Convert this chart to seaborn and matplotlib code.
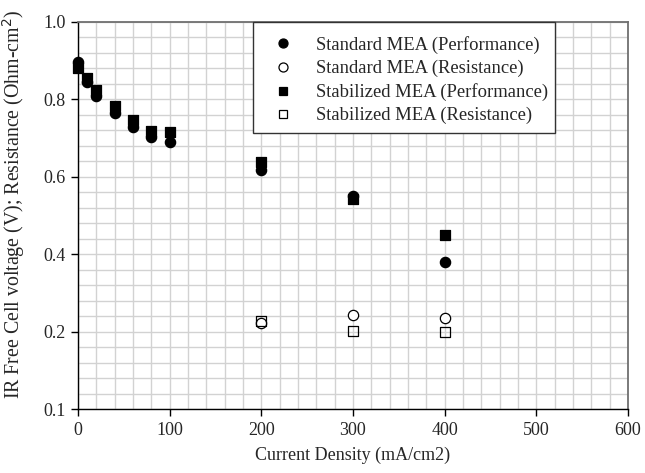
import numpy as np
import pandas as pd
import matplotlib
matplotlib.use("Agg")
import matplotlib.pyplot as plt
import seaborn as sns
from matplotlib.patches import Rectangle
from matplotlib.ticker import MultipleLocator, FixedLocator, FixedFormatter

sns.set_style("white")
plt.rcParams['font.family'] = ['Liberation Serif', 'DejaVu Serif']

# ---- data ----
current_perf = [0, 10, 20, 40, 60, 80, 100, 200, 300, 400]
std_perf = [0.897, 0.845, 0.809, 0.765, 0.729, 0.703, 0.690, 0.618, 0.550, 0.380]
stab_perf = [0.881, 0.855, 0.824, 0.783, 0.747, 0.718, 0.716, 0.638, 0.543, 0.450]
current_res = [200, 300, 400]
std_res = [0.222, 0.244, 0.236]
stab_res = [0.227, 0.202, 0.199]

series_names = ["Standard MEA (Performance)", "Standard MEA (Resistance)",
                "Stabilized MEA (Performance)", "Stabilized MEA (Resistance)"]
y_ticks = [0.0, 0.2, 0.4, 0.6, 0.8, 1.0]
y_tick_labels = ["0.1", "0.2", "0.4", "0.6", "0.8", "1.0"]
x_ticks = [0, 100, 200, 300, 400, 500, 600]

df = pd.concat([
    pd.DataFrame({"x": current_perf, "y": std_perf, "s": series_names[0]}),
    pd.DataFrame({"x": current_res, "y": std_res, "s": series_names[1]}),
    pd.DataFrame({"x": current_perf, "y": stab_perf, "s": series_names[2]}),
    pd.DataFrame({"x": current_res, "y": stab_res, "s": series_names[3]}),
])

W, H = 645, 473
fig = plt.figure(figsize=(W / 100, H / 100), dpi=100)
ax = fig.add_axes([78 / W, 64 / H, 550 / W, 387 / H])

styles = {
    series_names[0]: dict(marker="o", facecolor="black", edgecolor="black"),
    series_names[1]: dict(marker="o", facecolor="white", edgecolor="black"),
    series_names[2]: dict(marker="s", facecolor="black", edgecolor="black"),
    series_names[3]: dict(marker="s", facecolor="none", edgecolor="black"),
}
handles = []
for name in series_names:
    st = styles[name]
    sub = df[df["s"] == name]
    sns.scatterplot(data=sub, x="x", y="y", ax=ax, marker=st["marker"],
                    s=55 if st["marker"] == "o" else 50,
                    facecolor=st["facecolor"], edgecolor=st["edgecolor"],
                    linewidth=0.9, zorder=3, legend=False, clip_on=False)
    handles.append(plt.Line2D([], [], linestyle="none", marker=st["marker"],
                              markersize=6.5 if st["marker"] == "o" else 6,
                              markerfacecolor=st["facecolor"],
                              markeredgecolor=st["edgecolor"], markeredgewidth=0.9))

ax.set_xlim(0, 600)
ax.set_ylim(0, 1.0)
ax.xaxis.set_major_locator(FixedLocator(x_ticks))
ax.xaxis.set_minor_locator(MultipleLocator(20))
ax.yaxis.set_major_locator(FixedLocator(y_ticks))
ax.yaxis.set_major_formatter(FixedFormatter(y_tick_labels))
ax.yaxis.set_minor_locator(MultipleLocator(0.04))

ax.grid(True, which="both", color="#d2d2d2", linewidth=1.0)
ax.set_axisbelow(True)

for sp in ["left", "bottom"]:
    ax.spines[sp].set_color("black")
    ax.spines[sp].set_linewidth(1.0)
for sp in ["top", "right"]:
    ax.spines[sp].set_color("#707070")
    ax.spines[sp].set_linewidth(1.3)

ax.tick_params(axis="both", which="major", direction="out", length=5, width=1,
               color="black", labelsize=13, pad=4)
ax.tick_params(axis="both", which="minor", length=0)
ax.tick_params(left=True, bottom=True)

ax.set_xlabel("Current Density (mA/cm2)", fontsize=13, labelpad=6)
ax.set_ylabel("IR Free Cell voltage (V); Resistance (Ohm-cm$^2$)", fontsize=14.3)
ax.yaxis.set_label_coords(-0.0927, 0.53)

# legend frame box (drawn separately for exact placement)
frame = Rectangle((253 / W, 1 - 133 / H), 302 / W, 111 / H, transform=fig.transFigure,
                  facecolor="white", edgecolor="#333333", linewidth=1.0,
                  zorder=4, clip_on=False)
ax.add_patch(frame)

leg = ax.legend(handles=handles, labels=series_names, loc="upper left",
                bbox_to_anchor=(268 / W, 1 - 36 / H), bbox_transform=fig.transFigure,
                fontsize=13.4, frameon=False, borderpad=0, labelspacing=0.32,
                handletextpad=0.97, handlelength=1.6, borderaxespad=0)
leg.set_zorder(5)

fig.savefig("out.png", dpi=100)
